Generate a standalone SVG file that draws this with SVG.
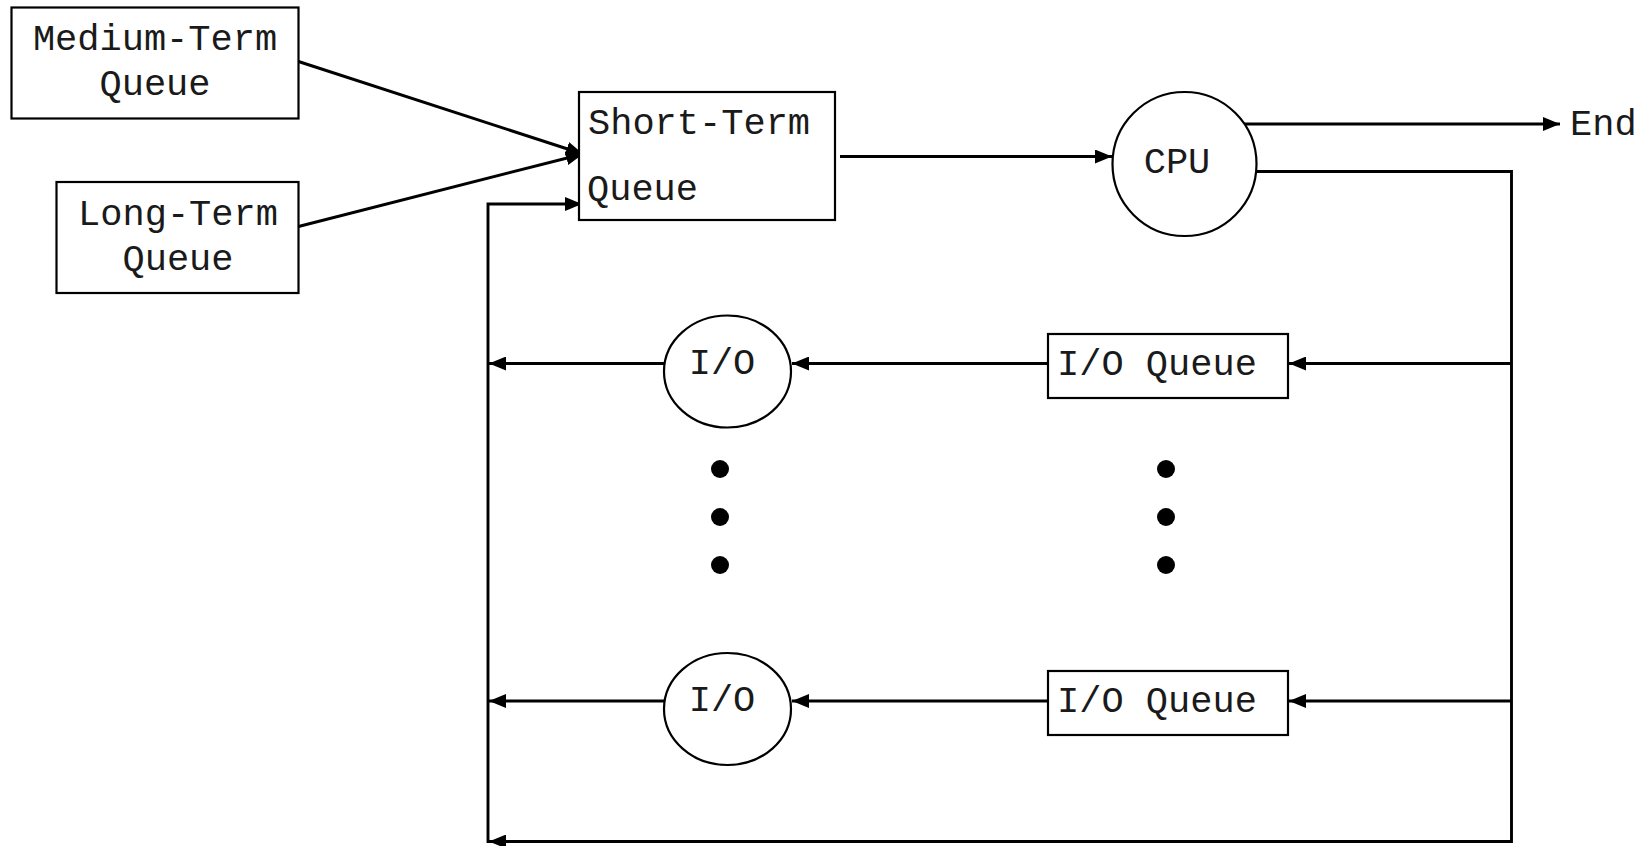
<svg xmlns="http://www.w3.org/2000/svg" width="1648" height="846" viewBox="0 0 1648 846">
<style>
.box{fill:#fff;stroke:#000;stroke-width:2.2}
.node{fill:#fff;stroke:#000;stroke-width:2.2}
.t{font-family:"Liberation Mono","Courier New",monospace;font-size:37px;fill:#1a1a1a}
.c{text-anchor:middle}
.ln{fill:none;stroke:#000;stroke-width:2.9}
.dot{fill:#000}
</style>
<defs>
<marker id="ah" markerUnits="userSpaceOnUse" markerWidth="17" markerHeight="14" viewBox="0 0 17 14" refX="17" refY="7" orient="auto">
<path d="M0,0 L17,7 L0,14 z" fill="#000"/>
</marker>
</defs>
<rect width="1648" height="846" fill="#fff"/>
<g id="connectors">
<line class="ln" x1="298.5" y1="61.5" x2="583" y2="154" marker-end="url(#ah)"/>
<line class="ln" x1="298.5" y1="226.5" x2="583" y2="154" marker-end="url(#ah)"/>
<line class="ln" x1="840" y1="156.5" x2="1112" y2="156.5" marker-end="url(#ah)"/>
<line class="ln" x1="1240" y1="124" x2="1560" y2="124" marker-end="url(#ah)"/>
<polyline class="ln" points="1257,171.5 1511.5,171.5 1511.5,841.5 489,841.5" marker-end="url(#ah)"/>
<line class="ln" x1="1511.5" y1="363.5" x2="1289" y2="363.5" marker-end="url(#ah)"/>
<line class="ln" x1="1048" y1="363.5" x2="792" y2="363.5" marker-end="url(#ah)"/>
<line class="ln" x1="664" y1="363.5" x2="489" y2="363.5" marker-end="url(#ah)"/>
<line class="ln" x1="1511.5" y1="701" x2="1289" y2="701" marker-end="url(#ah)"/>
<line class="ln" x1="1048" y1="701" x2="792" y2="701" marker-end="url(#ah)"/>
<line class="ln" x1="664" y1="701" x2="489" y2="701" marker-end="url(#ah)"/>
<polyline class="ln" points="488,843 488,204 582,204" marker-end="url(#ah)"/>
</g>
<g id="medium-term-queue">
<rect class="box" x="11.5" y="7.5" width="287" height="111"/>
<text class="t c" x="155" y="50">Medium-Term</text>
<text class="t c" x="155" y="95">Queue</text>
</g>
<g id="long-term-queue">
<rect class="box" x="56.5" y="182" width="242" height="111"/>
<text class="t c" x="178" y="225">Long-Term</text>
<text class="t c" x="178" y="270">Queue</text>
</g>
<g id="short-term-queue">
<rect class="box" x="579" y="92" width="256" height="128"/>
<text class="t" x="588" y="134">Short-Term</text>
<text class="t" x="587" y="200">Queue</text>
</g>
<g id="cpu">
<circle class="node" cx="1184.5" cy="164" r="72"/>
<text class="t c" x="1177" y="173">CPU</text>
</g>
<g id="end">
<text class="t" x="1570" y="135">End</text>
</g>
<g id="io-queue-1">
<rect class="box" x="1048" y="334" width="240" height="64"/>
<text class="t" x="1057" y="375">I/O Queue</text>
</g>
<g id="io-1">
<ellipse class="node" cx="727.5" cy="371.5" rx="63.5" ry="56"/>
<text class="t c" x="722" y="374">I/O</text>
</g>
<g id="io-queue-2">
<rect class="box" x="1048" y="671" width="240" height="64"/>
<text class="t" x="1057" y="712">I/O Queue</text>
</g>
<g id="io-2">
<ellipse class="node" cx="727.5" cy="709" rx="63.5" ry="56"/>
<text class="t c" x="722" y="711">I/O</text>
</g>
<g id="dots-left">
<circle class="dot" cx="720" cy="469" r="9"/>
<circle class="dot" cx="720" cy="517" r="9"/>
<circle class="dot" cx="720" cy="565" r="9"/>
</g>
<g id="dots-right">
<circle class="dot" cx="1166" cy="469" r="9"/>
<circle class="dot" cx="1166" cy="517" r="9"/>
<circle class="dot" cx="1166" cy="565" r="9"/>
</g>
</svg>
